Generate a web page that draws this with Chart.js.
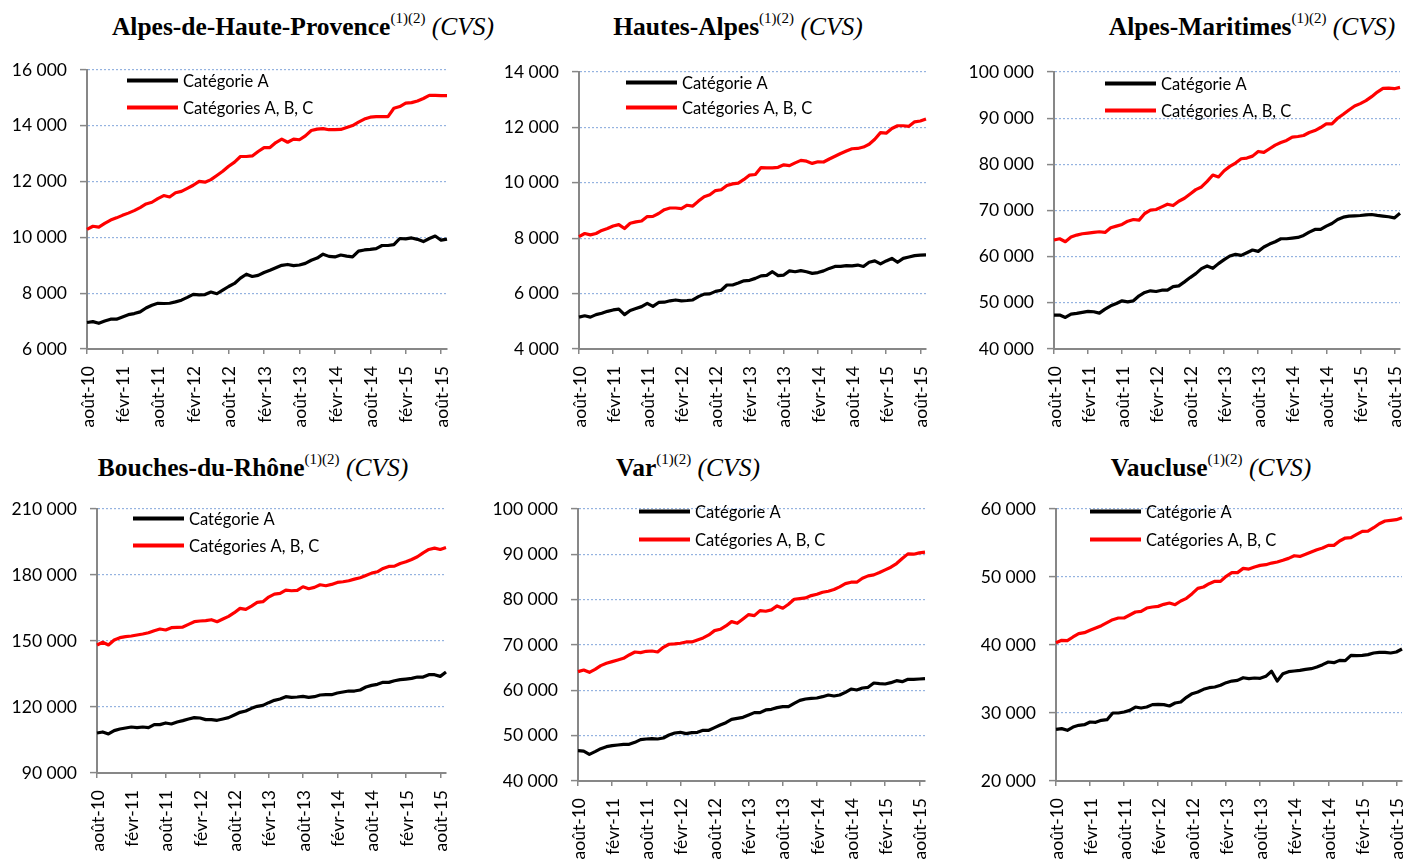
<!DOCTYPE html>
<html><head><meta charset="utf-8">
<script src="https://cdn.jsdelivr.net/npm/chart.js@4.4.1/dist/chart.umd.min.js"></script>
<style>
html,body{margin:0;padding:0;background:#fff;width:1409px;height:859px;overflow:hidden;position:relative;}
canvas{position:absolute;}
.title{position:absolute;white-space:nowrap;font-family:'Liberation Serif','Times New Roman',serif;font-size:25.5px;font-weight:bold;line-height:25px;color:#000;transform:translateX(-50%);}
.title sup{font-weight:normal;font-size:15px;line-height:0;vertical-align:baseline;position:relative;top:-12px;}
.title i{font-weight:normal;}
</style></head><body>
<script>
// ---------- DATA ----------
const months = ['août-10','sept-10','oct-10','nov-10','déc-10',
 'janv-11','févr-11','mars-11','avr-11','mai-11','juin-11','juil-11','août-11','sept-11','oct-11','nov-11','déc-11',
 'janv-12','févr-12','mars-12','avr-12','mai-12','juin-12','juil-12','août-12','sept-12','oct-12','nov-12','déc-12',
 'janv-13','févr-13','mars-13','avr-13','mai-13','juin-13','juil-13','août-13','sept-13','oct-13','nov-13','déc-13',
 'janv-14','févr-14','mars-14','avr-14','mai-14','juin-14','juil-14','août-14','sept-14','oct-14','nov-14','déc-14',
 'janv-15','févr-15','mars-15','avr-15','mai-15','juin-15','juil-15','août-15','sept-15'];
const seriesNames = ['Catégorie A','Catégories A, B, C'];
const departments = ['Alpes-de-Haute-Provence','Hautes-Alpes','Alpes-Maritimes','Bouches-du-Rhône','Var','Vaucluse'];

const ahpA = [6950,6980,6920,7000,7070,7070,7150,7230,7270,7330,7470,7570,7640,7630,7640,7690,7750,7850,7960,7940,7950,8040,7980,8110,8240,8350,8540,8680,8600,8640,8740,8820,8910,9000,9030,8990,9010,9070,9180,9260,9400,9320,9300,9370,9330,9300,9510,9550,9570,9600,9710,9710,9740,9960,9950,9980,9930,9850,9960,10050,9900,9940];
const ahpABC = [10290,10400,10370,10500,10620,10700,10790,10870,10960,11070,11200,11260,11390,11500,11450,11600,11650,11760,11870,12010,11980,12070,12220,12370,12550,12700,12900,12900,12920,13080,13220,13220,13400,13520,13410,13520,13500,13640,13830,13880,13900,13860,13860,13870,13940,14010,14130,14240,14310,14330,14330,14330,14630,14690,14810,14830,14890,14980,15090,15090,15080,15080];
const haA = [5150,5200,5150,5240,5290,5360,5410,5440,5240,5390,5460,5530,5650,5540,5680,5690,5740,5770,5740,5750,5770,5890,5980,5990,6080,6120,6310,6310,6380,6460,6480,6550,6640,6660,6790,6650,6670,6820,6790,6830,6790,6730,6760,6820,6910,6980,6980,7010,7000,7030,6980,7130,7180,7070,7180,7270,7130,7270,7320,7370,7390,7400];
const haABC = [8060,8170,8120,8170,8280,8350,8440,8490,8350,8540,8590,8620,8780,8790,8890,9030,9090,9090,9070,9190,9160,9340,9500,9570,9720,9750,9900,9960,9990,10120,10280,10300,10550,10540,10540,10560,10650,10620,10720,10810,10780,10700,10760,10750,10860,10960,11060,11150,11230,11240,11290,11390,11570,11810,11790,11960,12060,12060,12040,12200,12230,12300];
const amA = [47350,47350,46840,47560,47710,47920,48140,48070,47780,48640,49360,49860,50440,50220,50440,51520,52240,52600,52450,52740,52740,53530,53670,54540,55470,56330,57410,57990,57480,58490,59350,60140,60500,60290,60860,61440,61150,62090,62730,63240,63880,63880,64030,64170,64600,65320,65900,65900,66610,67190,68050,68560,68770,68840,68920,69060,69130,68950,68800,68650,68400,69400];
const amABC = [63600,63880,63240,64240,64670,64960,65100,65250,65390,65250,66260,66610,66970,67690,68050,67910,69350,70070,70210,70790,71360,71070,72010,72650,73590,74520,75100,76320,77690,77260,78620,79560,80280,81210,81350,81780,82790,82580,83370,84160,84730,85170,85890,86030,86240,86890,87320,87970,88760,88760,89980,90840,91780,92640,93150,93790,94660,95660,96450,96520,96380,96670];
const bdrA = [108200,108650,107740,109260,110010,110470,110920,110620,110920,110620,111980,111980,112740,112280,113190,113800,114550,115160,115010,114250,114250,113950,114550,115160,116370,117580,118180,119390,120300,120760,121970,123030,123630,124690,124390,124540,124840,124390,124690,125450,125600,125600,126350,126810,127260,127260,127720,129080,129830,130290,131200,131200,131950,132410,132710,133010,133620,133620,134680,134680,133920,135890];
const bdrABC = [148190,149400,148190,150450,151510,151960,152270,152720,153170,153780,154690,155440,154990,156050,156200,156350,157560,158770,159080,159230,159680,158770,159990,161200,162860,164830,164380,165890,167550,167860,169970,171330,171640,173150,172850,173000,174660,173760,174360,175570,175120,175720,176630,176930,177390,178140,178750,179800,180860,181470,182980,183890,184040,185250,186010,187060,188270,190080,191600,192200,191600,192500];
const varA = [46690,46610,45880,46470,47130,47570,47790,47940,48090,48090,48530,49120,49260,49340,49260,49480,50150,50590,50740,50440,50660,50740,51180,51180,51770,52360,52870,53610,53830,54050,54560,55080,55080,55670,55810,56180,56400,56400,57130,57790,58090,58230,58310,58600,58970,58750,58970,59560,60290,60070,60520,60660,61620,61470,61400,61690,62130,61910,62430,62430,62500,62570];
const varABC = [64120,64490,63970,64640,65450,65960,66330,66700,67070,67800,68460,68320,68610,68680,68460,69490,70160,70230,70380,70670,70670,71110,71560,72220,73170,73470,74200,75160,74790,75750,76710,76490,77590,77440,77740,78620,78110,78990,80090,80240,80390,80900,81200,81640,81860,82230,82820,83550,83850,83850,84730,85250,85470,85980,86570,87160,87970,89070,90100,90030,90320,90470];
const vauA = [27600,27700,27450,27940,28190,28280,28680,28630,28920,29020,30000,30000,30150,30390,30880,30730,30880,31230,31270,31230,31030,31470,31620,32300,32840,33090,33480,33720,33820,34070,34460,34700,34800,35190,35050,35150,35100,35390,36130,34700,35780,36080,36180,36270,36420,36520,36760,37110,37500,37400,37740,37690,38480,38430,38480,38580,38820,38920,38920,38820,38970,39410];
const vauABC = [40340,40690,40640,41180,41670,41810,42160,42500,42840,43280,43720,43970,43970,44410,44850,44950,45440,45590,45680,45980,46170,45930,46470,46860,47550,48330,48530,49020,49360,49360,50100,50640,50640,51270,51170,51470,51710,51810,52050,52200,52450,52740,53130,53030,53330,53670,54010,54260,54650,54650,55290,55730,55780,56270,56710,56760,57250,57840,58230,58330,58430,58720];

const yMins  = [6000, 4000, 40000, 90000, 40000, 20000];
const yMaxs  = [16000, 14000, 100000, 210000, 100000, 60000];
const ySteps = [2000, 2000, 10000, 30000, 10000, 10000];
const catASeries   = [ahpA, haA, amA, bdrA, varA, vauA];
const catABCSeries = [ahpABC, haABC, amABC, bdrABC, varABC, vauABC];

// ---------- LAYOUT (page pixels of each plot area, legend & title placement) ----------
const layout = [
  {L:87,  R:447,  T:70,  B:349, lx:40, rows:[10,37], tx:303, ty:14},
  {L:579, R:926,  T:72,  B:349, lx:47, rows:[10,35], tx:738, ty:14},
  {L:1054,R:1400, T:72,  B:349, lx:51, rows:[11,38], tx:1252, ty:14},
  {L:97,  R:446,  T:509, B:773, lx:36, rows:[9,36],  tx:253, ty:455},
  {L:578, R:925,  T:509, B:781, lx:61, rows:[2,30],  tx:688, ty:455},
  {L:1056,R:1402, T:509, B:781, lx:34, rows:[2,30],  tx:1211, ty:455}
];

const AXIS = '#878787', GRID = '#95b3e0', FONT = 'Lato';
const fmt = v => String(v).replace(/\B(?=(\d{3})+(?!\d))/g, ' ');

const insideLegend = {
  id: 'insideLegend',
  afterDatasetsDraw(chart, args, opts) {
    const ctx = chart.ctx, a = chart.chartArea;
    ctx.save();
    chart.data.datasets.forEach((ds, i) => {
      const y = Math.round(a.top + opts.rows[i]) + 0.5;
      const x0 = a.left + opts.x;
      ctx.strokeStyle = ds.borderColor; ctx.lineWidth = 4; ctx.lineCap = 'butt';
      ctx.beginPath(); ctx.moveTo(x0, y); ctx.lineTo(x0 + 51, y); ctx.stroke();
      ctx.fillStyle = '#000'; ctx.font = '16.5px ' + FONT;
      ctx.textBaseline = 'middle'; ctx.textAlign = 'left';
      ctx.fillText(ds.label, x0 + 56, y + 1);
    });
    ctx.restore();
  }
};

const YW = 85, XH = 85, PT = 20, PR = 10;
departments.forEach((name, p) => {
  const g = layout[p];
  const t = document.createElement('div');
  t.className = 'title';
  t.style.left = g.tx + 'px'; t.style.top = g.ty + 'px';
  t.innerHTML = name + '<sup>(1)(2)</sup> <i>(CVS)</i>';
  document.body.appendChild(t);

  const cv = document.createElement('canvas');
  const w = g.R - g.L + YW + PR, h = g.B - g.T + PT + XH;
  cv.width = w; cv.height = h;
  cv.style.left = (g.L - YW) + 'px'; cv.style.top = (g.T - PT) + 'px';
  cv.style.width = w + 'px'; cv.style.height = h + 'px';
  document.body.appendChild(cv);

  new Chart(cv, {
    type: 'line',
    data: {
      labels: months,
      datasets: [
        {label: seriesNames[0], data: catASeries[p], borderColor: '#000000', backgroundColor: '#000000'},
        {label: seriesNames[1], data: catABCSeries[p], borderColor: '#ff0000', backgroundColor: '#ff0000'}
      ]
    },
    plugins: [insideLegend],
    options: {
      responsive: false, animation: false, devicePixelRatio: 1,
      layout: {padding: {left: 0, right: PR, top: PT, bottom: 0}},
      elements: {point: {radius: 0}, line: {tension: 0, borderWidth: 3.2, borderJoinStyle: 'round'}},
      plugins: {legend: {display: false}, tooltip: {enabled: false},
                insideLegend: {x: g.lx, rows: g.rows}},
      scales: {
        x: {
          type: 'category', offset: false,
          grid: {drawOnChartArea: false, drawTicks: true, tickLength: 5, lineWidth: 1.5,
                 color: c => (c.index % 6 === 0 ? AXIS : 'rgba(0,0,0,0)'),
                 tickColor: c => (c.index % 6 === 0 ? AXIS : 'rgba(0,0,0,0)')},
          border: {color: AXIS, width: 2},
          ticks: {autoSkip: false, minRotation: 90, maxRotation: 90, padding: 12, labelOffset: 1,
                  color: '#000', font: {family: FONT, size: 17.5},
                  callback: function (v, i) { return i % 6 === 0 ? this.getLabelForValue(v) : ''; }},
          afterFit: s => { s.height = XH; s.paddingLeft = 0; s.paddingRight = 0; }
        },
        y: {
          min: yMins[p], max: yMaxs[p],
          grid: {color: GRID, lineWidth: 1.2, tickLength: 7, tickColor: AXIS, tickWidth: 1.5, tickBorderDash: []},
          border: {color: AXIS, width: 2, dash: [2, 2]},
          ticks: {stepSize: ySteps[p], padding: 13, color: '#000', font: {family: FONT, size: 17.5},
                  callback: v => fmt(v)},
          afterFit: s => { s.width = YW; s.paddingTop = 0; s.paddingBottom = 0; }
        }
      }
    }
  });
});
</script>
</body></html>
